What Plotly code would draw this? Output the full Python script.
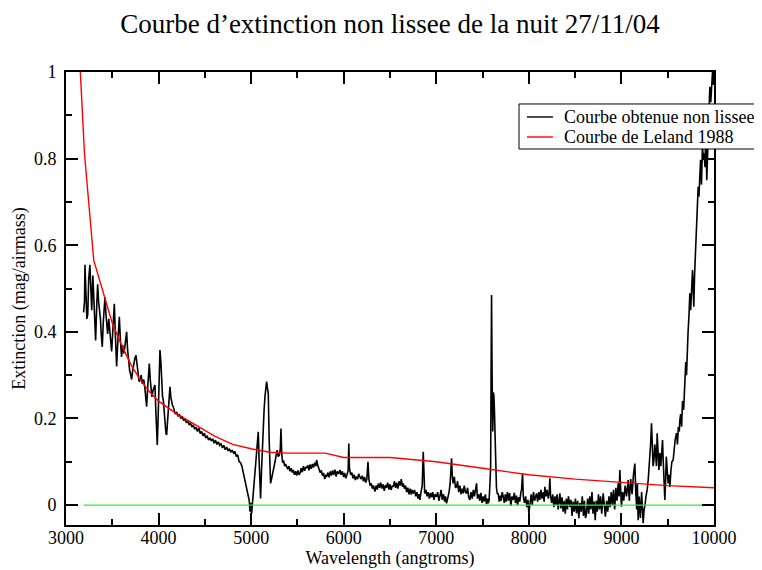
import plotly.graph_objects as go

# Courbe obtenue non lissee (wavelength in angstroms, extinction in mag/airmass)
wl_obs = [
    3190, 3200, 3205, 3215, 3225, 3235, 3245, 3258, 3268, 3278, 3290, 3300, 3310, 3320, 3332, 3342,
    3352, 3362, 3372, 3382, 3392, 3402, 3412, 3421, 3432, 3442, 3450, 3462, 3472, 3482, 3493, 3505,
    3515, 3522, 3532, 3540, 3547, 3558, 3568, 3576, 3588, 3600, 3612, 3625, 3638, 3648, 3655, 3665,
    3675, 3688, 3700, 3709, 3720, 3732, 3745, 3756, 3768, 3780, 3790, 3800, 3812, 3825, 3840, 3852,
    3862, 3871, 3882, 3892, 3900, 3910, 3920, 3928, 3940, 3950, 3961, 3970, 3978, 3986, 3995, 4005,
    4015, 4025, 4035, 4043, 4051, 4060, 4070, 4080, 4087, 4097, 4107, 4115, 4123, 4132, 4142, 4150,
    4159, 4170, 4180, 4195, 4210, 4225, 4240, 4255, 4270, 4285, 4300, 4315, 4330, 4345, 4360, 4375,
    4390, 4405, 4420, 4435, 4450, 4465, 4480, 4495, 4510, 4525, 4540, 4555, 4570, 4585, 4600, 4615,
    4630, 4645, 4660, 4675, 4690, 4705, 4720, 4735, 4750, 4765, 4780, 4795, 4810, 4825, 4840, 4855,
    4870, 4885, 4900, 4915, 4930, 4945, 4958, 4970, 4980, 4987, 4995, 5005, 5016, 5028, 5041, 5055,
    5068, 5077, 5085, 5095, 5102, 5112, 5122, 5131, 5140, 5149, 5158, 5167, 5176, 5185, 5195, 5203,
    5210, 5220, 5235, 5246, 5258, 5270, 5282, 5293, 5305, 5315, 5322, 5330, 5340, 5350, 5362, 5372,
    5383, 5395, 5408, 5420, 5432, 5445, 5455, 5468, 5480, 5492, 5505, 5517, 5527, 5540, 5552, 5565,
    5577, 5590, 5599, 5612, 5625, 5637, 5650, 5662, 5675, 5688, 5700, 5707, 5720, 5733, 5745, 5758,
    5770, 5782, 5795, 5808, 5815, 5830, 5842, 5855, 5868, 5880, 5893, 5905, 5918, 5930, 5945, 5959,
    5972, 5985, 5998, 6010, 6022, 6035, 6048, 6055, 6062, 6075, 6088, 6100, 6112, 6125, 6137, 6150,
    6162, 6175, 6188, 6200, 6213, 6225, 6238, 6250, 6262, 6272, 6285, 6297, 6310, 6322, 6337, 6350,
    6362, 6375, 6388, 6400, 6412, 6425, 6438, 6450, 6462, 6475, 6488, 6500, 6512, 6525, 6535, 6548,
    6560, 6572, 6585, 6598, 6610, 6622, 6635, 6643, 6655, 6668, 6680, 6692, 6705, 6718, 6730, 6740,
    6751, 6765, 6778, 6790, 6802, 6812, 6823, 6835, 6848, 6859, 6866, 6875, 6888, 6900, 6912, 6925,
    6938, 6950, 6962, 6975, 6988, 7003, 7015, 7028, 7040, 7052, 7065, 7078, 7090, 7100, 7111, 7125,
    7138, 7150, 7165, 7172, 7182, 7195, 7207, 7219, 7230, 7242, 7255, 7267, 7280, 7291, 7302, 7315,
    7327, 7338, 7350, 7363, 7375, 7388, 7400, 7412, 7425, 7435, 7445, 7458, 7470, 7482, 7494, 7507,
    7518, 7530, 7542, 7553, 7561, 7570, 7580, 7587, 7592, 7597, 7603, 7610, 7616, 7622, 7628, 7633,
    7640, 7650, 7660, 7669, 7680, 7690, 7700, 7712, 7723, 7735, 7745, 7757, 7768, 7780, 7792, 7805,
    7818, 7831, 7843, 7855, 7867, 7878, 7890, 7902, 7914, 7921, 7932, 7940, 7952, 7965, 7978, 7990,
    8000, 8012, 8025, 8037, 8050, 8062, 8073, 8083, 8095, 8107, 8118, 8130, 8142, 8155, 8165, 8173,
    8185, 8197, 8210, 8220, 8227, 8235, 8247, 8258, 8270, 8282, 8293, 8305, 8317, 8328, 8335, 8347,
    8358, 8370, 8382, 8393, 8405, 8417, 8428, 8443, 8455, 8467, 8478, 8490, 8503, 8515, 8527, 8540,
    8552, 8565, 8577, 8590, 8600, 8612, 8623, 8635, 8647, 8658, 8670, 8682, 8693, 8705, 8717, 8728,
    8740, 8752, 8763, 8775, 8787, 8803, 8815, 8827, 8840, 8852, 8865, 8877, 8890, 8902, 8915, 8927,
    8940, 8952, 8965, 8975, 8983, 8992, 9000, 9012, 9025, 9040, 9055, 9073, 9085, 9100, 9115, 9130,
    9145, 9155, 9165, 9172, 9181, 9192, 9205, 9218, 9228, 9235, 9245, 9255, 9265, 9278, 9290, 9300,
    9307, 9315, 9325, 9333, 9342, 9352, 9360, 9370, 9378, 9386, 9395, 9405, 9415, 9425, 9435, 9444,
    9452, 9460, 9469, 9478, 9485, 9495, 9505, 9515, 9523, 9535, 9545, 9559, 9570, 9580, 9595, 9605,
    9615, 9625, 9631, 9640, 9650, 9660, 9672, 9685, 9695, 9703, 9710, 9720, 9730, 9739, 9748, 9758,
    9768, 9775, 9782, 9790, 9797, 9804, 9812, 9820, 9829, 9837, 9845, 9855, 9865, 9875, 9885, 9893,
    9903, 9912, 9922, 9932, 9942, 9955, 9965, 9975, 9984, 9995, 10000,
]
ext_obs = [
    0.445, 0.470, 0.555, 0.460, 0.430, 0.440, 0.520, 0.555, 0.500, 0.450, 0.530, 0.470, 0.420, 0.380, 0.460, 0.510,
    0.470, 0.450, 0.430, 0.390, 0.365, 0.420, 0.460, 0.480, 0.440, 0.410, 0.395, 0.430, 0.410, 0.380, 0.355, 0.400,
    0.440, 0.465, 0.400, 0.350, 0.320, 0.370, 0.410, 0.435, 0.380, 0.342, 0.370, 0.350, 0.370, 0.390, 0.400, 0.360,
    0.330, 0.310, 0.300, 0.290, 0.310, 0.330, 0.340, 0.346, 0.320, 0.300, 0.285, 0.290, 0.300, 0.280, 0.290, 0.270,
    0.240, 0.227, 0.270, 0.310, 0.327, 0.290, 0.260, 0.250, 0.265, 0.270, 0.277, 0.220, 0.170, 0.139, 0.200, 0.300,
    0.358, 0.330, 0.280, 0.250, 0.243, 0.210, 0.180, 0.165, 0.162, 0.200, 0.240, 0.265, 0.273, 0.250, 0.235, 0.230,
    0.227, 0.215, 0.210, 0.215, 0.205, 0.210, 0.200, 0.205, 0.195, 0.200, 0.190, 0.195, 0.185, 0.190, 0.180, 0.185,
    0.175, 0.180, 0.170, 0.178, 0.165, 0.170, 0.160, 0.166, 0.155, 0.160, 0.150, 0.155, 0.148, 0.153, 0.143, 0.150,
    0.140, 0.146, 0.138, 0.142, 0.132, 0.138, 0.128, 0.134, 0.125, 0.130, 0.122, 0.127, 0.120, 0.124, 0.112, 0.116,
    0.100, 0.098, 0.090, 0.075, 0.060, 0.045, 0.035, 0.025, 0.010, -0.015, 0.005, -0.020, 0.011, 0.030, 0.065, 0.120,
    0.160, 0.169, 0.110, 0.030, 0.015, 0.080, 0.150, 0.181, 0.220, 0.250, 0.275, 0.285, 0.270, 0.258, 0.150, 0.070,
    0.050, 0.060, 0.075, 0.081, 0.100, 0.115, 0.127, 0.112, 0.115, 0.130, 0.177, 0.120, 0.098, 0.103, 0.090, 0.095,
    0.089, 0.083, 0.090, 0.078, 0.085, 0.075, 0.081, 0.070, 0.078, 0.068, 0.080, 0.070, 0.073, 0.085, 0.076, 0.090,
    0.079, 0.088, 0.085, 0.092, 0.080, 0.094, 0.084, 0.095, 0.087, 0.098, 0.090, 0.104, 0.092, 0.085, 0.075, 0.080,
    0.068, 0.074, 0.060, 0.070, 0.065, 0.075, 0.064, 0.078, 0.068, 0.080, 0.070, 0.082, 0.066, 0.078, 0.072, 0.081,
    0.070, 0.078, 0.065, 0.074, 0.062, 0.070, 0.080, 0.142, 0.085, 0.070, 0.075, 0.062, 0.070, 0.058, 0.066, 0.060,
    0.072, 0.065, 0.060, 0.068, 0.055, 0.065, 0.052, 0.060, 0.100, 0.060, 0.045, 0.050, 0.038, 0.045, 0.031, 0.045,
    0.036, 0.050, 0.040, 0.052, 0.038, 0.048, 0.033, 0.046, 0.040, 0.052, 0.036, 0.048, 0.035, 0.045, 0.042, 0.055,
    0.040, 0.052, 0.038, 0.055, 0.045, 0.060, 0.042, 0.050, 0.038, 0.045, 0.030, 0.040, 0.025, 0.038, 0.024, 0.035,
    0.027, 0.035, 0.020, 0.030, 0.015, 0.025, 0.012, 0.030, 0.045, 0.123, 0.060, 0.027, 0.035, 0.020, 0.030, 0.015,
    0.028, 0.018, 0.030, 0.012, 0.025, 0.019, 0.030, 0.010, 0.022, 0.035, 0.012, 0.025, 0.008, 0.020, 0.004, 0.015,
    0.030, 0.050, 0.108, 0.070, 0.050, 0.065, 0.040, 0.042, 0.055, 0.030, 0.045, 0.025, 0.038, 0.027, 0.045, 0.030,
    0.027, 0.040, 0.018, 0.012, 0.030, 0.015, 0.035, 0.020, 0.040, 0.050, 0.015, 0.025, 0.010, 0.028, 0.005, 0.020,
    0.008, 0.025, 0.002, 0.015, 0.004, 0.010, 0.050, 0.089, 0.300, 0.485, 0.300, 0.170, 0.260, 0.254, 0.220, 0.173,
    0.073, 0.040, 0.025, 0.027, 0.008, 0.022, 0.010, 0.030, 0.020, 0.005, 0.025, 0.008, 0.030, 0.010, 0.028, -0.002,
    0.020, 0.012, 0.028, 0.005, 0.022, 0.000, 0.018, 0.008, 0.030, 0.035, 0.073, 0.020, 0.005, 0.020, -0.005, 0.012,
    -0.019, 0.010, 0.025, 0.000, 0.030, 0.010, 0.020, 0.027, 0.008, 0.030, 0.012, 0.035, 0.015, 0.030, 0.008, 0.042,
    0.020, 0.035, 0.015, 0.030, 0.062, 0.020, 0.005, 0.025, -0.005, 0.020, 0.000, 0.025, -0.010, 0.015, 0.027, -0.008,
    0.018, -0.015, 0.010, -0.020, 0.015, -0.010, 0.020, -0.004, 0.012, -0.025, 0.008, -0.015, 0.015, -0.019, 0.010, -0.030,
    0.005, -0.015, 0.020, -0.025, 0.010, -0.030, -0.019, 0.015, -0.020, 0.020, -0.010, 0.030, -0.020, 0.008, -0.035, 0.010,
    -0.015, 0.025, -0.010, 0.020, -0.020, 0.027, 0.000, -0.027, 0.010, -0.015, 0.020, -0.005, 0.030, 0.000, 0.035, -0.010,
    0.040, 0.010, 0.050, 0.020, 0.081, 0.000, -0.004, 0.030, 0.010, 0.045, 0.020, 0.058, 0.010, 0.060, 0.025, 0.070,
    0.096, 0.030, -0.010, 0.050, -0.035, 0.020, -0.030, 0.030, -0.040, -0.042, -0.010, 0.000, 0.020, 0.035, 0.060, 0.090,
    0.104, 0.140, 0.189, 0.130, 0.090, 0.104, 0.140, 0.120, 0.090, 0.166, 0.110, 0.081, 0.120, 0.090, 0.120, 0.150,
    0.100, 0.040, 0.012, 0.060, 0.112, 0.080, 0.050, 0.070, 0.042, 0.080, 0.100, 0.104, 0.130, 0.150, 0.166, 0.140,
    0.180, 0.170, 0.196, 0.210, 0.181, 0.240, 0.220, 0.296, 0.330, 0.300, 0.365, 0.400, 0.440, 0.489, 0.450, 0.520,
    0.543, 0.500, 0.458, 0.530, 0.570, 0.597, 0.660, 0.700, 0.735, 0.712, 0.760, 0.797, 0.740, 0.830, 0.800, 0.812,
    0.780, 0.870, 0.750, 0.820, 0.900, 0.966, 0.930, 0.980, 1.000, 0.970, 1.020,
]

# Courbe de Leland 1988
wl_leland = [3150, 3200, 3300, 3400, 3500, 3600, 3700, 3800, 3900, 4000, 4200, 4400, 4600, 4800,
             5000, 5200, 5400, 5800, 6000, 6500, 7000, 7500, 8000, 8500, 9000, 9500, 10000]
ext_leland = [1.02, 0.81, 0.565, 0.49, 0.42, 0.37, 0.325, 0.29, 0.262, 0.24, 0.21, 0.185, 0.16, 0.14,
              0.13, 0.122, 0.12, 0.12, 0.11, 0.11, 0.10, 0.085, 0.07, 0.06, 0.052, 0.045, 0.04]

# zero reference line
wl_zero = [3190, 10000]
ext_zero = [0, 0]

legend_names = ["Courbe obtenue non lissee", "Courbe de Leland 1988"]
legend_colors = ["black", "red"]

serif = "Liberation Serif, Times New Roman, serif"

fig = go.Figure()
fig.add_trace(go.Scatter(x=wl_obs, y=ext_obs, mode="lines", name=legend_names[0],
                         line=dict(color=legend_colors[0], width=1.6)))
fig.add_trace(go.Scatter(x=wl_leland, y=ext_leland, mode="lines", name=legend_names[1],
                         line=dict(color=legend_colors[1], width=1.4)))
fig.add_trace(go.Scatter(x=wl_zero, y=ext_zero, mode="lines", name="zero",
                         line=dict(color="#33ee33", width=1.4)))

axis_common = dict(
    showgrid=False, zeroline=False, showline=True, linecolor="black", linewidth=2,
    mirror="ticks", ticks="inside", ticklen=12, tickwidth=1.5, tickcolor="black",
    tickfont=dict(family=serif, size=18, color="black"),
)

fig.update_xaxes(range=[3000, 10000], dtick=1000, tick0=3000, tickformat="d", ticklabelstandoff=-5,
                 minor=dict(dtick=500, ticks="inside", ticklen=6, tickwidth=1.5, tickcolor="black"),
                 title=dict(text="Wavelength (angtroms)", font=dict(family=serif, size=18, color="black"),
                            standoff=2),
                 **axis_common)
fig.update_yaxes(range=[-0.046, 1.0], dtick=0.2, tick0=0, ticklabelstandoff=4,
                 minor=dict(dtick=0.1, ticks="inside", ticklen=6, tickwidth=1.5, tickcolor="black"),
                 title=dict(text="Extinction (mag/airmass)", font=dict(family=serif, size=18, color="black"),
                            standoff=4),
                 **axis_common)

# boxed legend drawn in paper coordinates, spilling past the right edge like the original
fig.add_shape(type="rect", xref="paper", yref="paper", x0=0.6991, x1=1.12, y0=0.830, y1=0.9294,
              line=dict(color="black", width=1), fillcolor="white", layer="above")
for i, (name, col) in enumerate(zip(legend_names, legend_colors)):
    yy = 0.9007 - i * 0.0442
    fig.add_shape(type="line", xref="paper", yref="paper", x0=0.7114, x1=0.7515, y0=yy, y1=yy,
                  line=dict(color=col, width=1.4), layer="above")
    fig.add_annotation(text=name, xref="paper", yref="paper", x=0.7654, y=yy,
                       xanchor="left", yanchor="middle", showarrow=False,
                       font=dict(family=serif, size=18, color="black"))

fig.update_layout(
    width=762, height=570,
    margin=dict(l=58, r=56, t=64, b=53, autoexpand=False),
    paper_bgcolor="white", plot_bgcolor="white",
    title=dict(text="Courbe d\u2019extinction non lissee de la nuit 27/11/04",
               x=0.5, xref="paper", y=0.972, yanchor="middle",
               font=dict(family=serif, size=27, color="black")),
    showlegend=False,
)

fig.write_html("out.html")
